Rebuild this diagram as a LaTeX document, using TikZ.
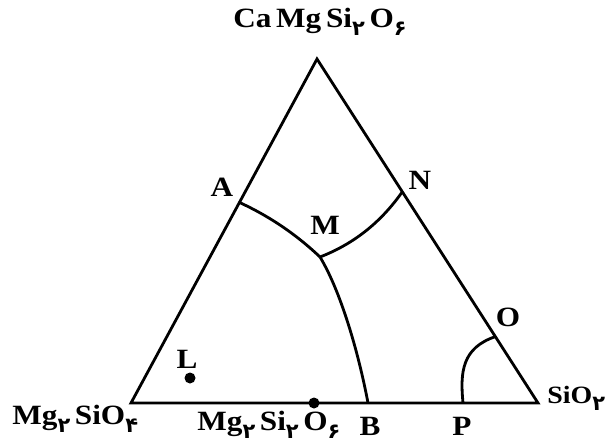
\documentclass[tikz,border=0pt]{standalone}
\usepackage{fontspec}
\usetikzlibrary{calc}
\setmainfont{Liberation Serif}[BoldFeatures={FakeStretch=1.12}]
\newfontfamily\fadigits{DejaVu Sans}
\newcommand{\fsub}[1]{\raisebox{-0.28em}{\fontsize{21}{21}\selectfont\fadigits\bfseries #1}}
\begin{document}
\begin{tikzpicture}[x=1bp,y=-1bp,line width=2.8bp,
  lab/.style={font=\fontsize{28}{28}\selectfont\bfseries,inner sep=0pt},
  dot/.style={circle,fill=black,inner sep=0pt,minimum size=11bp}]
\useasboundingbox (0,0) rectangle (608,443);
\coordinate (T) at (317,59);
\coordinate (L0) at (131,403);
\coordinate (R0) at (538,403);
\coordinate (A) at ($(L0)!0.583!(T)$);
\coordinate (N) at ($(R0)!0.614!(T)$);
\coordinate (O) at ($(R0)!0.193!(T)$);
\coordinate (M) at (320,257);
\coordinate (B) at (368,403);
\coordinate (P) at (463,403);
\draw[line join=miter] (T) -- (L0) -- (R0) -- cycle;
\draw (A) .. controls (270,216.5) and (296.5,234.7) .. (M);
\draw (M) .. controls (354,243.8) and (381,222.2) .. (N);
\draw (M) .. controls (340,290) and (358,350) .. (B);
\draw (O) .. controls (462,348) and (460,372) .. (P);
\node[dot] (Ld) at (190,378) {};
\node[dot] (Ed) at (314,403) {};
\node[lab] (top) at (320,22) {Ca\,Mg\,Si\fsub{۲}\,O\fsub{۶}};
\node[lab] (la) at (222,187) {A};
\node[lab] (ln) at (420,180) {N};
\node[lab] (lm) at (325,225) {M};
\node[lab] (lo) at (508,317) {O};
\node[lab] (ll) at (187,359) {L};
\node[lab,anchor=west] (fo) at (11,419) {Mg\fsub{۲}\,SiO\fsub{۴}};
\node[lab,anchor=west] (en) at (196,425) {Mg\fsub{۲}\,Si\fsub{۲}\,O\fsub{۶}};
\node[lab] (lb) at (370,426) {B};
\node[lab] (lp) at (462,426) {P};
\node[lab,anchor=west,font=\fontsize{25}{25}\selectfont\bfseries] (si) at (546,398) {SiO\fsub{۲}};
\end{tikzpicture}
\end{document}
